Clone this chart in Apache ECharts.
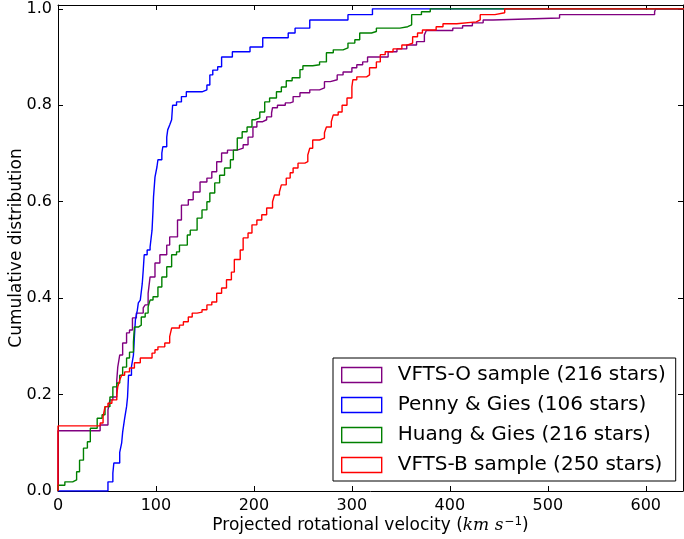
<!DOCTYPE html>
<html>
<head>
<meta charset="utf-8">
<script src="https://cdn.jsdelivr.net/npm/echarts@6/dist/echarts.min.js"></script>
<style>html,body{margin:0;padding:0;background:#fff;}#c{width:684px;height:539px;}</style>
</head>
<body>
<div id="c"></div>
<script>
// ---- data ----
const seriesNames = ['VFTS-O sample (216 stars)', 'Penny & Gies (106 stars)', 'Huang & Gies (216 stars)', 'VFTS-B sample (250 stars)'];
const xTicks = [0, 100, 200, 300, 400, 500, 600];
const yTicks = [0.0, 0.2, 0.4, 0.6, 0.8, 1.0];

const vftsOVel = [0, 0, 43, 51, 53, 56, 60, 61, 63, 66, 70, 73, 76, 80, 87, 89, 92, 94, 99, 104, 111, 114, 122, 126, 133, 138, 145, 152, 157, 162, 167, 173, 183, 189, 194, 199, 203, 209, 213, 218, 219, 224, 232, 237, 240, 247, 257, 267, 272, 278, 285, 291, 300, 305, 311, 316, 337, 346, 356, 366, 374, 376, 403, 413, 423, 434, 444, 512, 609, 610, 640];
const vftsOCum = [0, 0.125, 0.137, 0.168, 0.189, 0.195, 0.23, 0.257, 0.282, 0.307, 0.328, 0.334, 0.359, 0.369, 0.38, 0.386, 0.41, 0.444, 0.473, 0.49, 0.51, 0.527, 0.562, 0.593, 0.604, 0.62, 0.641, 0.649, 0.662, 0.683, 0.701, 0.707, 0.711, 0.718, 0.734, 0.755, 0.766, 0.77, 0.776, 0.784, 0.795, 0.80, 0.805, 0.807, 0.818, 0.826, 0.832, 0.836, 0.849, 0.853, 0.863, 0.869, 0.878, 0.884, 0.89, 0.90, 0.911, 0.917, 0.925, 0.932, 0.946, 0.955, 0.96, 0.965, 0.971, 0.977, 0.981, 0.988, 0.994, 1.0, 1.0];

const pennyVel = [0, 51, 56, 57, 63, 65, 66, 68, 70, 71, 72, 75, 77, 78, 79, 81, 82, 84, 86, 87, 88, 91, 94, 96, 97, 97.5, 99, 101, 102, 106, 107, 111, 112, 114, 116, 117, 121, 126, 131, 147, 152, 155, 158, 163, 167, 178, 196, 209, 235, 242, 257, 296, 321, 640];
const pennyCum = [0, 0.019, 0.037, 0.058, 0.08, 0.1, 0.122, 0.15, 0.175, 0.195, 0.24, 0.258, 0.282, 0.32, 0.355, 0.375, 0.39, 0.396, 0.43, 0.458, 0.49, 0.5, 0.506, 0.541, 0.583, 0.61, 0.651, 0.672, 0.687, 0.701, 0.714, 0.734, 0.749, 0.759, 0.77, 0.80, 0.807, 0.818, 0.828, 0.832, 0.842, 0.863, 0.873, 0.88, 0.90, 0.911, 0.921, 0.94, 0.95, 0.96, 0.977, 0.988, 1.0, 1.0];

const huangVel = [0, 0, 7, 15, 19, 22, 26, 30, 33, 40, 45, 48, 53, 56, 60, 63, 66, 70, 73, 77, 78, 82, 85, 89, 92, 94, 97, 102, 106, 111, 116, 121, 124, 132, 135, 142, 147, 152, 155, 160, 165, 170, 176, 179, 183, 188, 193, 198, 201, 206, 211, 216, 223, 228, 233, 239, 247, 250, 260, 267, 274, 281, 291, 296, 303, 308, 320, 325, 349, 357, 361, 371, 380, 640];
const huangCum = [0, 0.012, 0.019, 0.023, 0.04, 0.064, 0.089, 0.102, 0.13, 0.151, 0.158, 0.175, 0.195, 0.216, 0.224, 0.24, 0.257, 0.276, 0.288, 0.309, 0.34, 0.344, 0.361, 0.369, 0.382, 0.396, 0.403, 0.423, 0.444, 0.465, 0.49, 0.496, 0.51, 0.531, 0.541, 0.566, 0.583, 0.6, 0.618, 0.639, 0.655, 0.67, 0.687, 0.707, 0.732, 0.745, 0.755, 0.77, 0.774, 0.786, 0.807, 0.815, 0.828, 0.838, 0.851, 0.857, 0.874, 0.882, 0.884, 0.89, 0.909, 0.915, 0.919, 0.929, 0.936, 0.95, 0.953, 0.96, 0.963, 0.967, 0.988, 0.994, 1.0, 1.0];

const vftsBVel = [0, 0, 43, 46, 48, 51, 55, 60, 61, 63, 65, 68, 73, 78, 84, 96, 99, 102, 109, 114, 116, 124, 128, 133, 137, 142, 147, 152, 157, 162, 167, 172, 177, 180, 186, 189, 194, 198, 203, 208, 213, 219, 221, 226, 228, 233, 237, 240, 245, 252, 255, 257, 260, 267, 272, 274, 279, 281, 286, 290, 295, 300, 301, 305, 315, 318, 325, 329, 334, 342, 351, 357, 362, 367, 372, 386, 393, 407, 427, 431, 446, 456, 640];
const vftsBCum = [0, 0.135, 0.141, 0.154, 0.175, 0.182, 0.189, 0.199, 0.216, 0.23, 0.24, 0.247, 0.255, 0.266, 0.276, 0.286, 0.293, 0.299, 0.307, 0.32, 0.338, 0.344, 0.351, 0.361, 0.369, 0.371, 0.376, 0.386, 0.392, 0.41, 0.421, 0.438, 0.454, 0.48, 0.5, 0.525, 0.535, 0.552, 0.562, 0.573, 0.587, 0.6, 0.614, 0.62, 0.635, 0.649, 0.66, 0.67, 0.68, 0.683, 0.697, 0.711, 0.728, 0.732, 0.743, 0.755, 0.766, 0.78, 0.786, 0.80, 0.815, 0.838, 0.853, 0.859, 0.863, 0.878, 0.89, 0.905, 0.911, 0.917, 0.925, 0.929, 0.942, 0.95, 0.956, 0.963, 0.969, 0.973, 0.977, 0.988, 0.992, 1.0, 1.0];

const seriesColors = ['#800080', '#0000ff', '#008000', '#ff0000'];
// ---------------------------------------

const zip = (a, b) => a.map((v, i) => [v, b[i]]);
const allData = [zip(vftsOVel, vftsOCum), zip(pennyVel, pennyCum), zip(huangVel, huangCum), zip(vftsBVel, vftsBCum)];

const FONT = 'DejaVu Sans';
const X_MIN = 0, X_MAX = 638, Y_MIN = 0, Y_MAX = 1.008;

function isTick(arr, v) { return arr.some(t => Math.abs(t - v) < 1e-6); }

const baseAxis = {
  axisLine: { show: true, onZero: false, lineStyle: { color: '#000', width: 1 } },
  axisTick: { show: true, inside: true, length: 5, lineStyle: { color: '#000', width: 1 } },
  splitLine: { show: false },
};

const chart = echarts.init(document.getElementById('c'), null, { renderer: 'canvas' });
chart.setOption({
  animation: false,
  backgroundColor: '#fff',
  grid: { left: 58, right: 1, top: 5, bottom: 48, outerBoundsMode: 'none', containLabel: false },
  xAxis: [
    Object.assign({}, baseAxis, {
      type: 'value', position: 'bottom', min: X_MIN, max: X_MAX, interval: 100,
      axisLabel: { show: true, margin: 7, color: '#000', fontFamily: FONT, fontSize: 16,
        formatter: v => isTick(xTicks, v) ? String(v) : '' },
      name: '{a|Projected rotational velocity (}{b|km s}{c|−1}{a|)}',
      nameLocation: 'middle', nameGap: 25, nameMoveOverlap: false,
      nameTextStyle: {
        rich: {
          a: { fontFamily: FONT, fontSize: 17, color: '#000' },
          b: { fontFamily: 'DejaVu Serif', fontStyle: 'italic', fontSize: 17, color: '#000' },
          c: { fontFamily: FONT, fontSize: 12, color: '#000', verticalAlign: 'top', padding: [0, 0, 8, 1] }
        }
      }
    }),
    Object.assign({}, baseAxis, {
      type: 'value', position: 'top', min: X_MIN, max: X_MAX, interval: 100,
      axisLabel: { show: false }
    })
  ],
  yAxis: [
    Object.assign({}, baseAxis, {
      type: 'value', position: 'left', min: Y_MIN, max: Y_MAX, interval: 0.2,
      axisLabel: { show: true, margin: 6, color: '#000', fontFamily: FONT, fontSize: 16,
        formatter: v => isTick(yTicks, v) ? v.toFixed(1) : '' },
      name: 'Cumulative distribution', nameLocation: 'middle', nameRotate: 90, nameGap: 33,
      nameMoveOverlap: false,
      nameTextStyle: { fontFamily: FONT, fontSize: 17, color: '#000' }
    }),
    Object.assign({}, baseAxis, {
      type: 'value', position: 'right', min: Y_MIN, max: Y_MAX, interval: 0.2,
      axisLabel: { show: false }
    })
  ],
  legend: {
    show: true,
    orient: 'vertical',
    left: 333, top: 358,
    padding: [7, 10, 6, 8],
    itemGap: 10,
    itemWidth: 40, itemHeight: 15,
    backgroundColor: '#fff',
    borderColor: '#000', borderWidth: 1, borderRadius: 0,
    textStyle: { fontFamily: FONT, fontSize: 20, color: '#000', padding: [0, 0, 0, 11] },
    data: seriesNames.map((n, i) => ({
      name: n, icon: 'rect',
      itemStyle: { color: 'rgba(0,0,0,0)', borderColor: seriesColors[i], borderWidth: 1.4 }
    }))
  },
  series: seriesNames.map((n, i) => ({
    name: n, type: 'line', step: 'end', xAxisIndex: 0, yAxisIndex: 0,
    data: allData[i], showSymbol: false, symbol: 'none', clip: true,
    color: seriesColors[i],
    lineStyle: { color: seriesColors[i], width: 1.4 },
    emphasis: { disabled: true }, z: 2 + i
  }))
});
</script>
</body>
</html>
